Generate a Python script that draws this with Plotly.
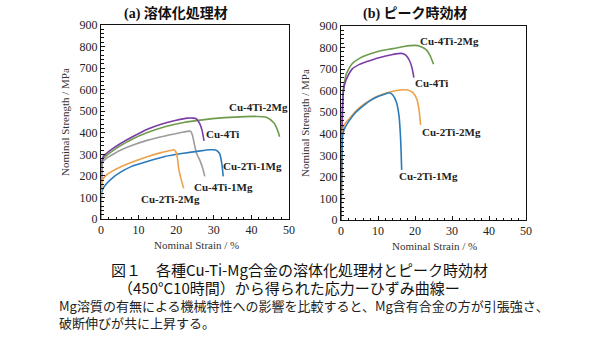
import plotly.graph_objects as go

# ---- stress-strain data (strain %, nominal stress MPa) ----
# (a) solution-treated
a_4ti_2mg_x = [0, 0.3, 0.6, 1.5, 3, 5, 8, 12.5, 17, 22, 27, 32, 37, 41, 44, 46, 47, 47.5]
a_4ti_2mg_y = [0, 260, 280, 295, 315, 338, 368, 402, 428, 448, 460, 469, 474, 476, 472, 445, 410, 382]

a_4ti_x = [0, 0.3, 0.6, 1.5, 3, 5, 8, 12.5, 16, 20, 23, 24.5, 25.3, 26.2, 26.9, 27.4]
a_4ti_y = [0, 270, 290, 305, 325, 348, 378, 418, 440, 458, 468, 468, 465, 445, 410, 362]

a_4ti_1mg_x = [0, 0.3, 0.6, 1.5, 3, 5, 8, 12.5, 17, 21, 23.8, 24.3, 24.8, 25.4, 26.3, 27, 27.6]
a_4ti_1mg_y = [0, 250, 268, 282, 298, 318, 340, 366, 385, 400, 407, 390, 350, 305, 272, 238, 198]

a_2ti_1mg_x = [0, 0.2, 0.5, 1.5, 3, 5, 8, 12.5, 17, 22, 26, 29, 30.5, 31.5, 32.1, 32.5]
a_2ti_1mg_y = [0, 125, 140, 165, 190, 215, 243, 268, 290, 305, 315, 321, 320, 305, 260, 198]

a_2ti_2mg_x = [0, 0.2, 0.5, 1.5, 3, 5, 8, 12.5, 16, 18.5, 19.3, 19.9, 20.3, 20.7, 21.3, 22.0]
a_2ti_2mg_y = [0, 160, 185, 205, 222, 240, 262, 290, 308, 318, 321, 312, 285, 230, 185, 142]

# (b) peak-aged
b_4ti_2mg_x = [0, 0.3, 0.6, 1, 1.5, 3, 5, 7, 10, 14, 17, 20, 21.5, 23, 24, 25]
b_4ti_2mg_y = [0, 450, 600, 645, 680, 725, 750, 765, 782, 795, 805, 810, 805, 790, 765, 723]

b_4ti_x = [0, 0.3, 0.6, 1, 1.5, 3, 5, 7, 10, 14, 16.4, 17.5, 18.5, 19.2, 19.7]
b_4ti_y = [0, 430, 590, 630, 655, 700, 722, 735, 752, 768, 773, 765, 740, 705, 661]

b_2ti_2mg_x = [0, 0.2, 0.5, 1, 2, 4, 6, 8, 10, 13, 16, 18, 19.5, 20.5, 21.1, 21.5]
b_2ti_2mg_y = [0, 280, 420, 445, 465, 505, 535, 557, 575, 593, 603, 603, 590, 560, 510, 441]

b_2ti_1mg_x = [0, 0.2, 0.5, 1, 2, 4, 6, 8, 10, 12, 13, 14, 15, 15.7, 16.1, 16.4]
b_2ti_1mg_y = [0, 260, 400, 425, 455, 500, 530, 555, 573, 585, 590, 580, 545, 480, 380, 232]

# series labels and their anchor positions (strain, stress)
a_labels = ["Cu-4Ti-2Mg", "Cu-4Ti", "Cu-2Ti-1Mg", "Cu-4Ti-1Mg", "Cu-2Ti-2Mg"]
a_label_x = [41.8, 32.4, 40.2, 32.5, 18.6]
a_label_y = [518, 394, 247, 147, 93]
b_labels = ["Cu-4Ti-2Mg", "Cu-4Ti", "Cu-2Ti-2Mg", "Cu-2Ti-1Mg"]
b_label_x = [29.2, 24.5, 29.9, 23.6]
b_label_y = [832, 637, 410, 204]

x_ticks = [0, 10, 20, 30, 40, 50]
y_ticks = [0, 100, 200, 300, 400, 500, 600, 700, 800, 900]

GREEN = "#6e9c4c"
PURPLE = "#7a3ea6"
GRAY = "#9c9c9c"
BLUE = "#2b7bba"
ORANGE = "#eea14a"

W, H = 600, 337


def px(x):
    return x / W


def py(y):
    return 1 - y / H


fig = go.Figure()

panel_a = [
    (a_4ti_2mg_x, a_4ti_2mg_y, GREEN),
    (a_4ti_x, a_4ti_y, PURPLE),
    (a_4ti_1mg_x, a_4ti_1mg_y, GRAY),
    (a_2ti_1mg_x, a_2ti_1mg_y, BLUE),
    (a_2ti_2mg_x, a_2ti_2mg_y, ORANGE),
]
panel_b = [
    (b_4ti_2mg_x, b_4ti_2mg_y, GREEN),
    (b_4ti_x, b_4ti_y, PURPLE),
    (b_2ti_2mg_x, b_2ti_2mg_y, ORANGE),
    (b_2ti_1mg_x, b_2ti_1mg_y, BLUE),
]

for xs, ys, c in panel_a:
    fig.add_trace(go.Scatter(x=xs, y=ys, mode="lines", xaxis="x", yaxis="y",
                             line=dict(color=c, width=1.6, shape="spline", smoothing=0.7),
                             showlegend=False, hoverinfo="skip"))
for xs, ys, c in panel_b:
    fig.add_trace(go.Scatter(x=xs, y=ys, mode="lines", xaxis="x2", yaxis="y2",
                             line=dict(color=c, width=1.6, shape="spline", smoothing=0.7),
                             showlegend=False, hoverinfo="skip"))

SERIF = "Liberation Serif, Times New Roman, serif"
CJK = "Noto Sans CJK JP"

axis_common = dict(
    showline=True, linecolor="#111", linewidth=1, mirror=True,
    showgrid=False, zeroline=False, ticks="inside", ticklen=4,
    tickcolor="#111", tickwidth=1, automargin=False,
    tickfont=dict(family=SERIF, size=12, color="#222"),
)

fig.update_layout(
    width=W, height=H, autosize=False,
    margin=dict(l=0, r=0, t=0, b=0, pad=0, autoexpand=False),
    paper_bgcolor="white", plot_bgcolor="white",
    xaxis=dict(domain=[px(101), px(289)], range=[0, 50], tickvals=x_ticks,
               minor=dict(dtick=2, ticks="inside", ticklen=2.5, tickcolor="#111"),
               anchor="y", **axis_common),
    yaxis=dict(domain=[py(219), py(25)], range=[0, 900], tickvals=y_ticks,
               minor=dict(dtick=20, ticks="inside", ticklen=2.5, tickcolor="#111"),
               anchor="x", **axis_common),
    xaxis2=dict(domain=[px(341), px(526)], range=[0, 50], tickvals=x_ticks,
                minor=dict(dtick=2, ticks="inside", ticklen=2.5, tickcolor="#111"),
                anchor="y2", **axis_common),
    yaxis2=dict(domain=[py(220), py(26)], range=[0, 900], tickvals=y_ticks,
                minor=dict(dtick=20, ticks="inside", ticklen=2.5, tickcolor="#111"),
                anchor="x2", **axis_common),
)

ann = []
# curve labels
for t, x, y in zip(a_labels, a_label_x, a_label_y):
    ann.append(dict(x=x, y=y, xref="x", yref="y", text=f"<b>{t}</b>", showarrow=False,
                    font=dict(family=SERIF, size=11, color="#222")))
for t, x, y in zip(b_labels, b_label_x, b_label_y):
    ann.append(dict(x=x, y=y, xref="x2", yref="y2", text=f"<b>{t}</b>", showarrow=False,
                    font=dict(family=SERIF, size=11, color="#222")))


def paper_text(xc, yc, text, font, xanchor="center", **kw):
    return dict(x=px(xc), y=py(yc), xref="paper", yref="paper", showarrow=False,
                xanchor=xanchor, yanchor="middle", text=text, font=font, **kw)


# panel titles
ann.append(paper_text(176, 13, "<b>(a) 溶体化処理材</b>",
                      dict(family=SERIF + ", " + CJK, size=14, color="#111")))
ann.append(paper_text(415, 13, "<b>(b) ピーク時効材</b>",
                      dict(family=SERIF + ", " + CJK, size=14, color="#111")))

# axis titles
for xc, yc in [(65, 122), (305, 123)]:
    ann.append(paper_text(xc, yc, "Nominal Strength / MPa",
                          dict(family=SERIF, size=11, color="#333"), textangle=-90))
for xc, yc in [(196, 245), (434, 246)]:
    ann.append(paper_text(xc, yc, "Nominal Strain / %",
                          dict(family=SERIF, size=11, color="#333")))

# figure caption
ann.append(paper_text(299, 269, "図１　各種Cu-Ti-Mg合金の溶体化処理材とピーク時効材",
                      dict(family=CJK, size=15, color="#111")))
ann.append(paper_text(289, 287, "（450°C10時間）から得られた応力ーひずみ曲線ー",
                      dict(family=CJK, size=15, color="#111")))
ann.append(paper_text(57, 314,
                      "Mg溶質の有無による機械特性への影響を比較すると、Mg含有合金の方が引張強さ、"
                      "<br>破断伸びが共に上昇する。",
                      dict(family=CJK, size=13, color="#222"), xanchor="left", align="left"))

fig.update_layout(annotations=ann)
fig.write_html("out.html")
